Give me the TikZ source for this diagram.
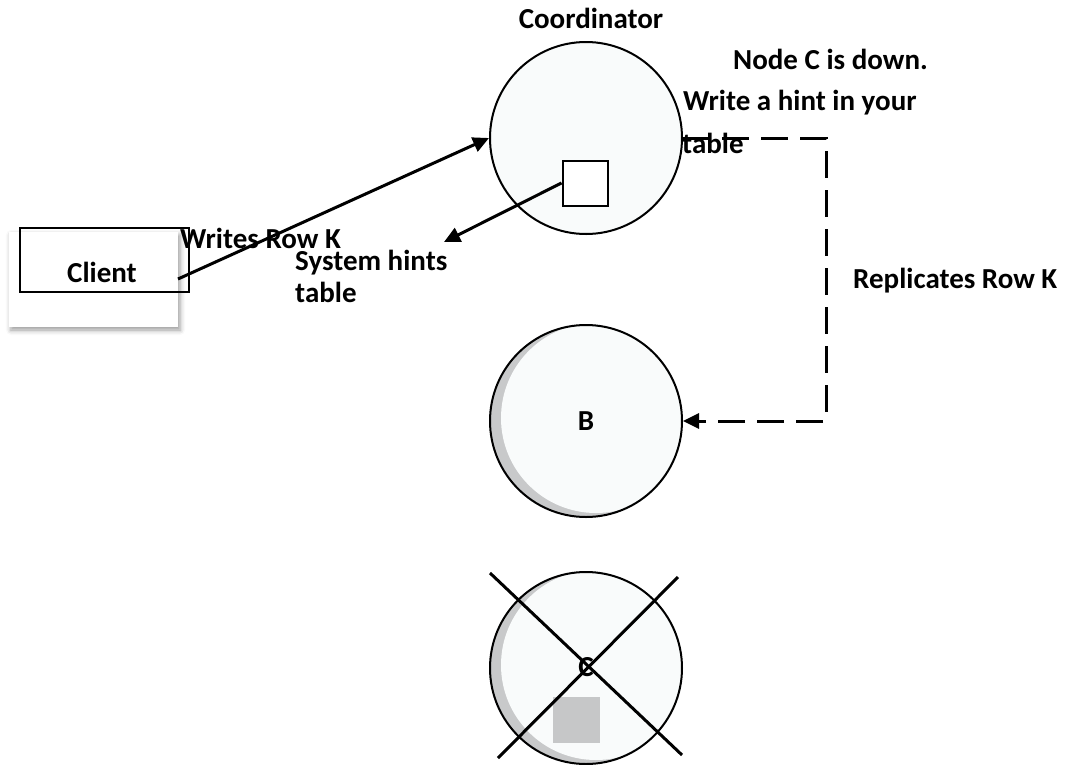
\documentclass[tikz,border=0pt]{standalone}
\usepackage{fontspec}
\setmainfont{Carlito}
\usetikzlibrary{arrows.meta,shadows.blur}
\definecolor{discfill}{HTML}{F9FBFB}
\definecolor{discshade}{HTML}{C8C9CA}
\definecolor{blotgray}{HTML}{C6C7C8}
\begin{document}
\begin{tikzpicture}[x=1pt,y=-1pt,
  font=\fontsize{29}{33}\selectfont\bfseries,
  disc/.style={circle, draw, line width=2pt, fill=discfill,
    minimum size=192pt, inner sep=0pt},
  shadeddisc/.style={disc, path picture={
      \fill[discshade] (path picture bounding box.center) circle[radius=97pt];
      \fill[discfill] ([xshift=10pt,yshift=3pt]path picture bounding box.center) circle[radius=95pt];}},
  link/.style={line width=3pt, -{Triangle[length=16pt,width=15pt]}},
  dashlink/.style={link, dash pattern=on 27pt off 12pt},
  txt/.style={anchor=base west, inner sep=0pt},
  ctxt/.style={anchor=base, inner sep=0pt}]
\useasboundingbox (0,0) rectangle (1072,764);

% client panel and box
\node[rectangle, fill=white, minimum width=169pt, minimum height=95pt, inner sep=0pt,
  blur shadow={shadow xshift=2pt, shadow yshift=-3pt, shadow blur radius=5pt, shadow opacity=40}]
  (panel) at (93.5,279.5) {};
\node[rectangle, draw, line width=2pt, minimum width=169pt, minimum height=64pt, inner sep=0pt]
  (client) at (104.5,260) {};
\node[ctxt] (clientlbl) at (102,282) {Client};

% coordinator with its hints table
\node[disc] (coord) at (586,138) {};
\node[rectangle, draw, line width=2pt, fill=white, minimum size=45pt, inner sep=0pt]
  (hints) at (585,183) {};
\node[ctxt] (coordlbl) at (591,28) {Coordinator};

% replicas
\node[shadeddisc] (B) at (586,421) {B};
\node[shadeddisc] (C) at (586,668) {};
\fill[blotgray] (553,697) rectangle (600,743);
\node[inner sep=0pt] (Clbl) at (586,667) {C};

% labels
\node[txt] (down) at (733,69) {Node C is down.};
\node[txt] (hint1) at (683,110) {Write a hint in your};
\node[txt] (hint2) at (682,153) {table};
\node[txt] (repl) at (853,288) {Replicates Row K};
\node[txt] (writes) at (180,248) {Writes Row K};
\node[txt] (sys1) at (295,270) {System hints};
\node[txt] (sys2) at (295,302) {table};

% connectors
\coordinate (cstart) at (178,279);
\coordinate (hintend) at (444,242);
\draw[link] (cstart) -- (coord.west);
\draw[link] (hints.west) -- (hintend);
\draw[dashlink] (coord.east) -- (826,138) |- (B.east);

% node C crossed out
\coordinate (xa1) at (490,573);
\coordinate (xa2) at (682,755);
\coordinate (xb1) at (678,577);
\coordinate (xb2) at (498,758);
\draw[line width=3pt] (xa1) -- (xa2);
\draw[line width=3pt] (xb1) -- (xb2);
\end{tikzpicture}
\end{document}
